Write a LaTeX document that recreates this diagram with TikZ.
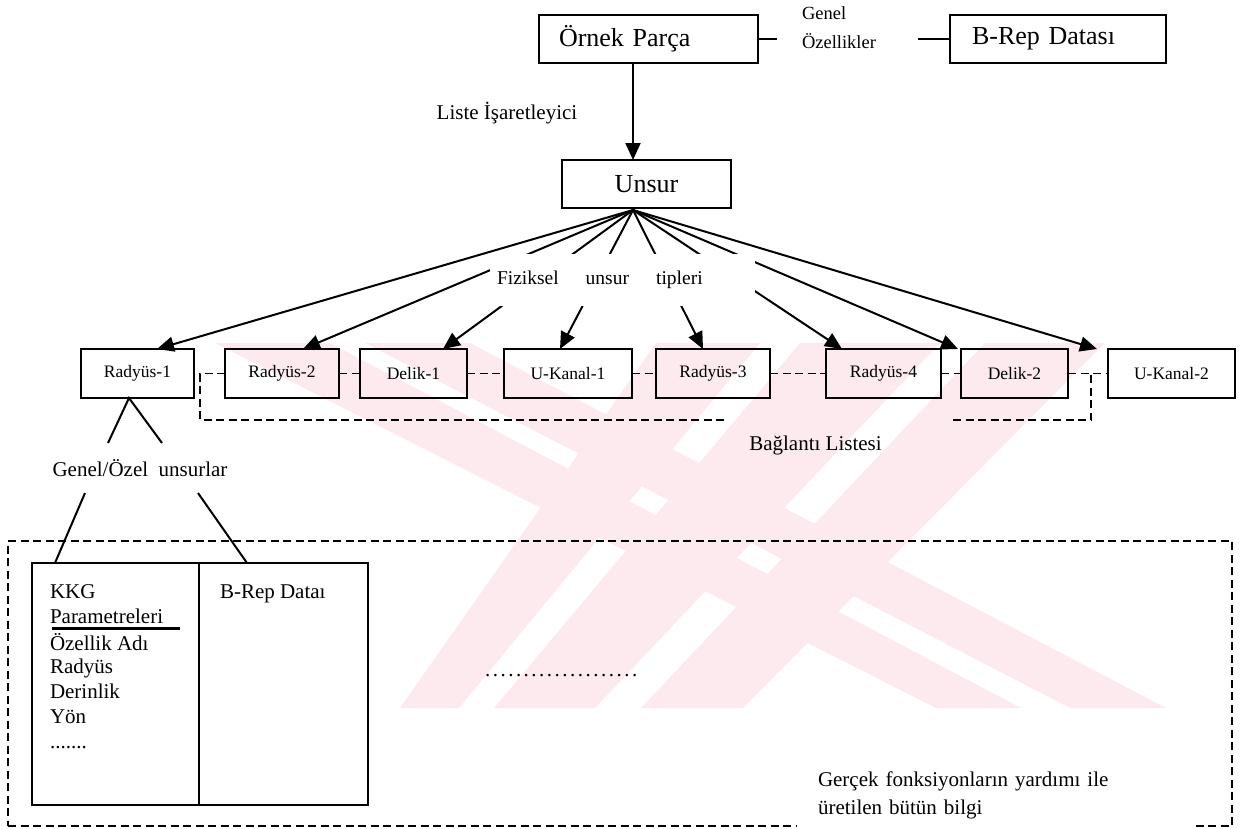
\documentclass[tikz,border=0pt]{standalone}
\usepackage{fontspec}
\setmainfont{Liberation Serif}
\usetikzlibrary{arrows.meta,calc}
\definecolor{emblem}{RGB}{253,234,238}
\begin{document}
\begin{tikzpicture}[x=1pt,y=-1pt,
  every node/.style={inner sep=0pt, outer sep=0pt},
  line/.style={line width=2pt},
  arr/.style={line width=2pt, -{Triangle[length=17pt,width=15pt]}},
  dsh/.style={line width=1.8pt, dash pattern=on 8pt off 4.5pt},
  bigbox/.style={draw, line width=2pt, minimum height=48pt,
    font=\fontsize{26}{30}\selectfont},
  rowbox/.style={draw, line width=2pt, minimum height=49pt,
    font=\fontsize{17.5}{21}\selectfont},
  lbl/.style={font=\fontsize{21}{28}\selectfont},
  small/.style={font=\fontsize{18.5}{29}\selectfont},
  panel/.style={draw, line width=2.4pt, minimum height=242pt},
]
\useasboundingbox (0,0) rectangle (1240,828);

% ---- faint striped emblem in the background
\begin{scope}
  \clip (0,343) rectangle (1240,708);
  \fill[emblem] (215,343) -- (330,343) -- (1021,708) -- (936,708) -- cycle;
  \fill[emblem] (365,343) -- (470,343) -- (1166,708) -- (1070,708) -- cycle;
  \fill[emblem] (656,343) -- (760,343) -- (459,708) -- (400,708) -- cycle;
  \fill[emblem] (800,343) -- (940,343) -- (595,708) -- (494,708) -- cycle;
  \fill[emblem] (985,343) -- (1105,343) -- (743,708) -- (641,708) -- cycle;
\end{scope}

% ---- top level: part, general properties, B-Rep data
\node[bigbox, text width=179pt, inner xsep=20pt, align=left] (ornek) at (648.5,39) {Örnek Parça};
\node[small, anchor=west, align=left] (genel) at (802,28) {Genel\\Özellikler};
\node[bigbox, text width=172pt, inner xsep=22pt, align=left] (brep) at (1058,38.5) {B-Rep Datası};
\draw[line, shorten >=25pt] (ornek.east) -- (ornek.east -| genel.west);
\draw[line, shorten <=42pt] (genel.east |- brep.west) -- (brep.west);

% ---- feature node and list pointer
\node[lbl] (liste) at (507,113) {Liste İşaretleyici};
\node[bigbox, minimum width=169pt] (unsur) at (646.5,184) {Unsur};
\coordinate (hub) at (633,210);
\draw[arr] (ornek.south -| hub) -- (unsur.north -| hub);

% ---- feature instances
\node[rowbox, minimum width=113pt] (r1) at (137.5,373.5) {Radyüs-1};
\node[rowbox, minimum width=114pt] (r2) at (282,373.5) {Radyüs-2};
\node[rowbox, minimum width=107pt] (d1) at (413.5,373.5) {Delik-1};
\node[rowbox, minimum width=128pt] (u1) at (568,373.5) {U-Kanal-1};
\node[rowbox, minimum width=114pt] (r3) at (713,373.5) {Radyüs-3};
\node[rowbox, minimum width=115pt] (r4) at (883.5,373.5) {Radyüs-4};
\node[rowbox, minimum width=107pt] (d2) at (1014.5,373.5) {Delik-2};
\node[rowbox, minimum width=127pt] (u2) at (1171.5,373.5) {U-Kanal-2};

% ---- fan of arrows from the feature node
\draw[arr] (hub) -- ($(r1.north west)+(76,0)$);
\draw[arr] (hub) -- ($(r2.north west)+(78,0)$);
\draw[arr] (hub) -- ($(d1.north west)+(83,0)$);
\draw[arr] (hub) -- ($(u1.north west)+(56,0)$);
\draw[arr] (hub) -- ($(r3.north west)+(47,0)$);
\draw[arr] (hub) -- ($(r4.north west)+(16,0)$);
\draw[arr] (hub) -- ($(d2.north west)+(-3,0)$);
\draw[arr] (hub) -- ($(u2.north west)+(-11,0)$);
\node[fill=white, text width=251pt, inner xsep=7pt, align=left, minimum height=52pt,
  font=\fontsize{19.5}{24}\selectfont] (tipler) at (622.5,280)
  {Fiziksel\hspace{27pt}unsur\hspace{27pt}tipleri};

% ---- connection list
\draw[dsh] (r2.east) -- (d1.west);
\draw[dsh] (d1.east) -- (u1.west);
\draw[dsh] (u1.east) -- (r3.west);
\draw[dsh] (r3.east) -- (r4.west);
\draw[dsh] (r4.east) -- (d2.west);
\draw[dsh] (d2.east) -- (u2.west);
\coordinate (lcorner) at (200,420);
\coordinate (lend) at (727,420);
\coordinate (rstart) at (953,420);
\draw[dsh] (r2.west) -| (lcorner) -- (lend);
\draw[dsh] (rstart) -| ($(d2.east)!0.575!(u2.west)$);
\node[lbl] (baglanti) at (815.5,445) {Bağlantı Listesi};

% ---- general / special features
\coordinate (apex) at ($(r1.south)+(-8.5,0)$);
\coordinate (legL) at (108,443);
\coordinate (legR) at (162,443);
\draw[line] (legL) -- (apex) -- (legR);
\node[lbl] (gos) at (140,468) {Genel/Özel\ \ unsurlar};

% ---- information region
\node[draw, dsh, minimum width=1224pt, minimum height=285pt] (region) at (620,683.5) {};
\node[panel, minimum width=167pt] (panelL) at (115.5,684) {};
\node[panel, minimum width=169pt] (panelR) at (283.5,684) {};
\coordinate (gosL) at (85,493);
\coordinate (gosR) at (198,493);
\draw[line] (gosL) -- (panelL.north -| 55,0);
\draw[line] (gosR) -- (panelR.north -| 247,0);

\node[lbl, anchor=base west] (kkg) at (50,598) {KKG};
\node[lbl, anchor=base west] (param) at (50,623) {Parametreleri};
\draw[line width=3pt] (52,628) -- (180,628);
\node[lbl, anchor=base west] (adi) at (50,650) {Özellik Adı};
\node[lbl, anchor=base west] (rad) at (50,673) {Radyüs};
\node[lbl, anchor=base west] (der) at (50,698) {Derinlik};
\node[lbl, anchor=base west] (yon) at (50,723) {Yön};
\node[lbl, anchor=base west] (more) at (50,748) {.......};
\node[lbl, anchor=base west] (bdata) at (220,598) {B-Rep Dataı};

\node[lbl, anchor=base west] (dots) at (485,676)
  {\foreach \i in {1,...,20}{.\hspace{2.5pt}}};

\node[lbl, fill=white, anchor=south west, text width=355pt, inner xsep=21pt,
  inner ysep=10pt, align=left] (gercek) at (797,829)
  {Gerçek fonksiyonların yardımı ile\\üretilen bütün bilgi};
\end{tikzpicture}
\end{document}
